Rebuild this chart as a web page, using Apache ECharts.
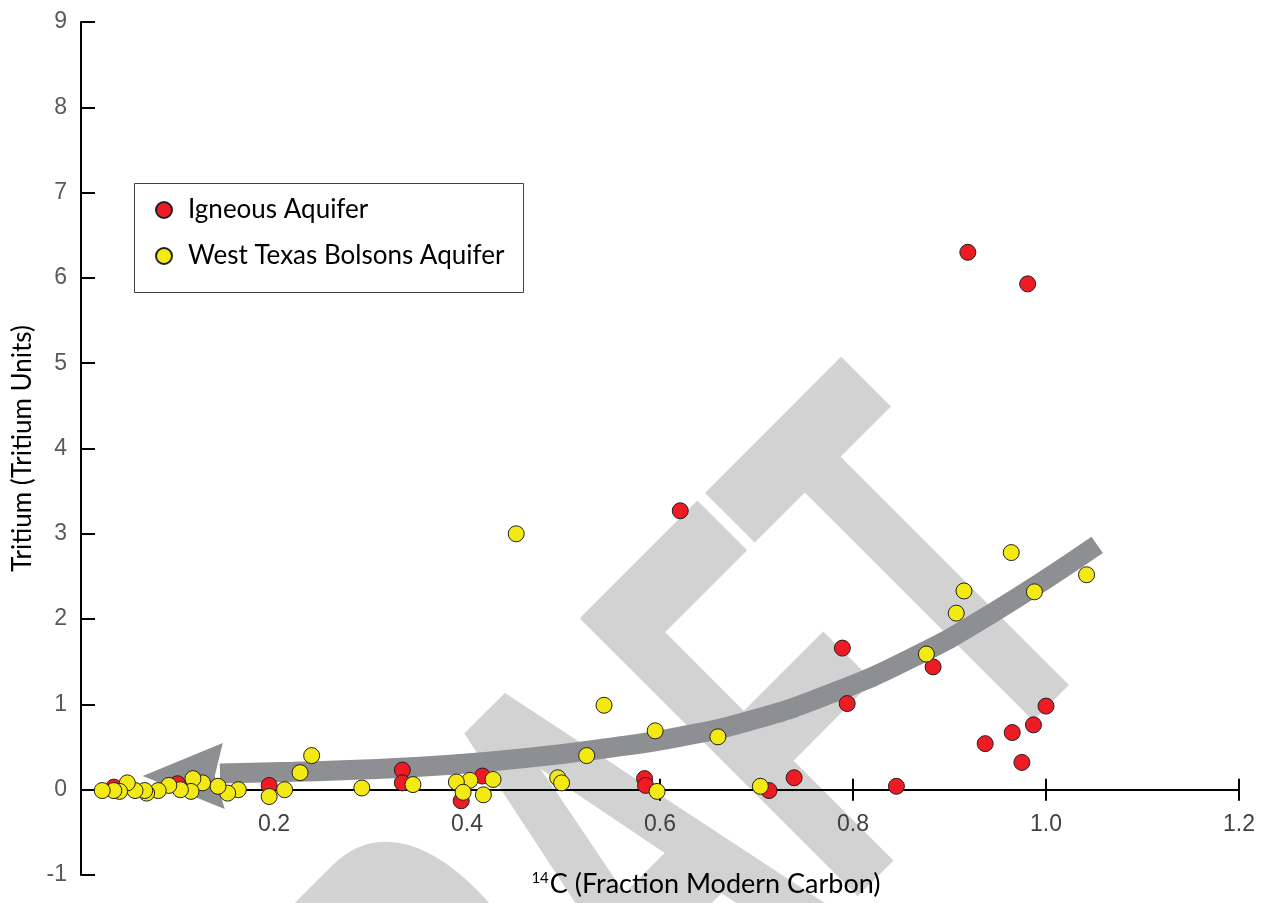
<!DOCTYPE html>
<html><head><meta charset="utf-8">
<script src="https://cdn.jsdelivr.net/npm/echarts@6/dist/echarts.min.js"></script>
<style>html,body{margin:0;padding:0;background:#fff}#c{width:1264px;height:903px}</style>
</head><body><div id="c"></div>
<script>
// ---- data ----
const seriesNames = ['Igneous Aquifer', 'West Texas Bolsons Aquifer'];
const igneousC14     = [0.919,0.981,0.621,0.789,0.883,0.794,1.000,0.987,0.965,0.937,0.975,0.845,0.739,0.713,0.584,0.585,0.416,0.394,0.333,0.333,0.195,0.100,0.034];
const igneousTritium = [6.30, 5.93, 3.27, 1.66, 1.44, 1.01, 0.98, 0.76, 0.67, 0.54, 0.32, 0.04, 0.14,-0.01, 0.13, 0.05, 0.16,-0.13, 0.23, 0.08, 0.05, 0.07, 0.03];
const bolsonsC14     = [0.451,0.964,1.042,0.915,0.988,0.907,0.876,0.542,0.595,0.660,0.524,0.494,0.498,0.597,0.704,0.427,0.403,0.389,0.396,0.417,0.344,0.291,0.239,0.227,0.211,0.195,0.163,0.152,0.142,0.126,0.116,0.114,0.103,0.091,0.080,0.068,0.066,0.056,0.048,0.040,0.034,0.022];
const bolsonsTritium = [3.00, 2.78, 2.52, 2.33, 2.32, 2.07, 1.59, 0.99, 0.69, 0.62, 0.40, 0.14, 0.08,-0.02, 0.04, 0.12, 0.11, 0.09,-0.03,-0.06, 0.06, 0.02, 0.40, 0.20, 0.00,-0.08, 0.00,-0.04, 0.04, 0.08, 0.13,-0.02, 0.00, 0.05,-0.01,-0.04,-0.01,-0.01, 0.08,-0.02,-0.01,-0.01];
const xTickLabels = ['', '0.2', '0.4', '0.6', '0.8', '1.0', '1.2'];
const yTickLabels = ['-1','0','1','2','3','4','5','6','7','8','9'];
// trend arrow annotation (data coordinates, from arrow tail near the head up to the far end)
const trendArrowC14     = [0.144,0.22,0.30,0.38,0.46,0.54,0.62,0.70,0.78,0.86,0.94,1.053];
const trendArrowTritium = [0.19, 0.21,0.24,0.29,0.37,0.48,0.62,0.83,1.14,1.54,2.04,2.87];
const arrowTip = [0.064, 0.16];

const X_MIN = 0, X_MAX = 1.2, Y_MIN = -1, Y_MAX = 9;
const GRID = { left: 81, top: 22, width: 1158, height: 853 };
// x axis crosses the y axis at tritium = 0
const xAxisOffset = -GRID.height * (0 - Y_MIN) / (Y_MAX - Y_MIN);

const zip = (a, b) => a.map((v, i) => [v, b[i]]);
const FONT = 'Lato';
const ptStyle = (c) => ({ color: c, borderColor: '#231f20', borderWidth: 1, opacity: 1 });
const ARROW_COLOR = '#8e8f92';

const chart = echarts.init(document.getElementById('c'), null, { renderer: 'canvas' });
const xBase = {
  type: 'value', min: X_MIN, max: X_MAX, interval: 0.2, position: 'bottom', offset: xAxisOffset,
  splitLine: { show: false },
  axisLine: { show: true, onZero: false, lineStyle: { color: '#000', width: 2 } }
};
chart.setOption({
  animation: false,
  backgroundColor: '#fff',
  grid: Object.assign({ containLabel: false, outerBoundsMode: 'none' }, GRID),
  xAxis: [
    Object.assign({}, xBase, {
      name: '{sup|14}C (Fraction Modern Carbon)', nameLocation: 'middle', nameGap: 81,
      nameTextStyle: { fontFamily: FONT, fontSize: 27, color: '#000', padding: [0, 0, 0, 92],
        rich: { sup: { fontFamily: FONT, fontSize: 15, color: '#000', verticalAlign: 'top', padding: [0, 1, 10, 0] } } },
      axisTick: { show: true, inside: false, length: 11, lineStyle: { color: '#000', width: 2 } },
      axisLabel: { show: true, margin: 23, fontFamily: 'Liberation Sans', fontSize: 23, color: '#404040',
        formatter: (v, i) => xTickLabels[i] }
    }),
    Object.assign({}, xBase, {
      axisTick: { show: true, inside: true, length: 11, lineStyle: { color: '#000', width: 2 } },
      axisLabel: { show: false }
    })
  ],
  yAxis: {
    type: 'value', min: Y_MIN, max: Y_MAX, interval: 1,
    name: 'Tritium (Tritium Units)', nameLocation: 'middle', nameGap: 36, nameRotate: 90,
    nameTextStyle: { fontFamily: FONT, fontSize: 26, color: '#000' },
    splitLine: { show: false },
    axisLine: { show: true, onZero: false, lineStyle: { color: '#000', width: 2 } },
    axisTick: { show: true, inside: true, length: 14, lineStyle: { color: '#000', width: 2 } },
    axisLabel: { margin: 14, fontFamily: 'Liberation Sans', fontSize: 23, color: '#595959',
      formatter: (v, i) => yTickLabels[i] }
  },
  legend: {
    data: seriesNames, orient: 'vertical', left: 155, top: 197,
    itemWidth: 16, itemHeight: 16, itemGap: 20, icon: 'circle', padding: 0,
    textStyle: { fontFamily: FONT, fontSize: 26, color: '#000', lineHeight: 26, padding: [0, 0, 0, 11] }
  },
  graphic: [
    { type: 'text', x: 1008, y: 522, rotation: Math.PI / 4, scaleX: 0.57, scaleY: 1, z: -10, silent: true,
      style: { text: 'DRAFT', fontSize: 560, fontWeight: 'bold', fontFamily: 'Liberation Sans', fill: '#d2d2d2',
        stroke: '#d2d2d2', lineWidth: 8, lineJoin: 'round', align: 'right', verticalAlign: 'middle' } },
    { type: 'rect', z: 3, silent: true, shape: { x: 134.5, y: 183.5, width: 389, height: 109 },
      style: { fill: '#fff', stroke: '#404040', lineWidth: 1 } }
  ],
  series: [
    { type: 'line', data: zip(trendArrowC14, trendArrowTritium), smooth: 0.5, symbol: 'none', silent: true, z: 1,
      lineStyle: { color: ARROW_COLOR, width: 20, cap: 'butt' } },
    { type: 'custom', data: [arrowTip], silent: true, z: 1, encode: { x: 0, y: 1 },
      renderItem: (params, api) => {
        const t = api.coord([api.value(0), api.value(1)]);
        return { type: 'polygon',
          shape: { points: [t, [t[0] + 80, t[1] - 33], [t[0] + 72, t[1]], [t[0] + 82, t[1] + 33]] },
          style: { fill: ARROW_COLOR } };
      } },
    { name: seriesNames[0], type: 'scatter', z: 5, symbol: 'circle', symbolSize: 16,
      data: zip(igneousC14, igneousTritium), itemStyle: ptStyle('#ed1c24') },
    { name: seriesNames[1], type: 'scatter', z: 5, symbol: 'circle', symbolSize: 16,
      data: zip(bolsonsC14, bolsonsTritium), itemStyle: ptStyle('#f4ea13') }
  ]
});
</script></body></html>
